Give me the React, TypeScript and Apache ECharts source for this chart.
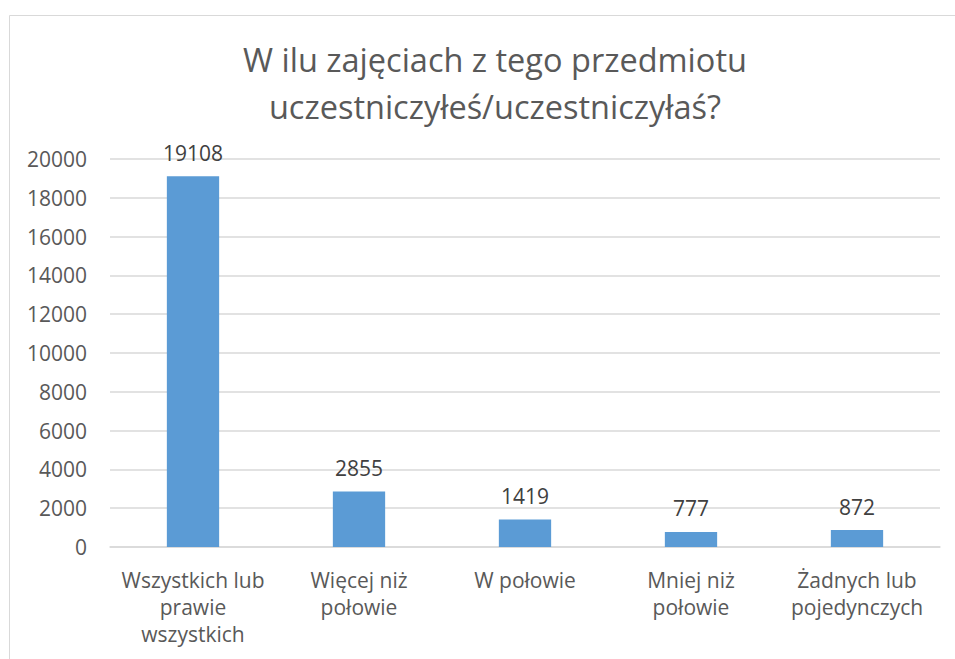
import React, { useEffect, useRef } from "react";
import * as echarts from "echarts";

const titleLines = ["W ilu zajęciach z tego przedmiotu", "uczestniczyłeś/uczestniczyłaś?"];
const categories = [
  "Wszystkich lub\nprawie\nwszystkich",
  "Więcej niż\npołowie",
  "W połowie",
  "Mniej niż\npołowie",
  "Żadnych lub\npojedynczych",
];
const values = [19108, 2855, 1419, 777, 872];
const yMin = 0;
const yMax = 20000;
const yInterval = 2000;

const FONT = "'Open Sans', Lato, sans-serif";

export default function App() {
  const ref = useRef<HTMLDivElement>(null);
  useEffect(() => {
    if (!ref.current) return;
    const chart = echarts.init(ref.current, null, { renderer: "svg" });
    chart.setOption({
      animation: false,
      backgroundColor: "#ffffff",
      title: {
        text: titleLines.join("\n"),
        left: 490,
        textAlign: "center",
        top: 31,
        textStyle: {
          fontFamily: FONT,
          fontSize: 32.5,
          fontWeight: "normal",
          color: "#595959",
          lineHeight: 47,
        },
      },
      graphic: [
        {
          type: "rect",
          shape: { x: 9.5, y: 15.5, width: 960, height: 700 },
          style: { fill: "none", stroke: "#D9D9D9", lineWidth: 1 },
          silent: true,
        },
      ],
      grid: { left: 110, right: 15, top: 159, bottom: 112, containLabel: false },
      xAxis: {
        type: "category",
        data: categories,
        axisLine: { lineStyle: { color: "#D9D9D9", width: 1.5 } },
        axisTick: { show: false },
        axisLabel: {
          fontFamily: FONT,
          fontSize: 21,
          color: "#595959",
          lineHeight: 27,
          margin: 19,
          interval: 0,
        },
      },
      yAxis: {
        type: "value",
        min: yMin,
        max: yMax,
        interval: yInterval,
        axisLine: { show: false },
        axisTick: { show: false },
        splitLine: { lineStyle: { color: "#D9D9D9", width: 1.5 } },
        axisLabel: {
          fontFamily: FONT,
          fontSize: 21,
          color: "#595959",
          margin: 23,
          formatter: (v: number) => String(v),
        },
      },
      series: [
        {
          type: "bar",
          data: values,
          barWidth: "31.5%",
          itemStyle: { color: "#5B9BD5" },
          label: {
            show: true,
            position: "top",
            distance: 13,
            fontFamily: FONT,
            fontSize: 21,
            color: "#404040",
          },
        },
      ],
    });
    return () => chart.dispose();
  }, []);
  return (
    <div
      ref={ref}
      style={{ position: "absolute", left: 0, top: 0, width: 955, height: 659 }}
    />
  );
}
